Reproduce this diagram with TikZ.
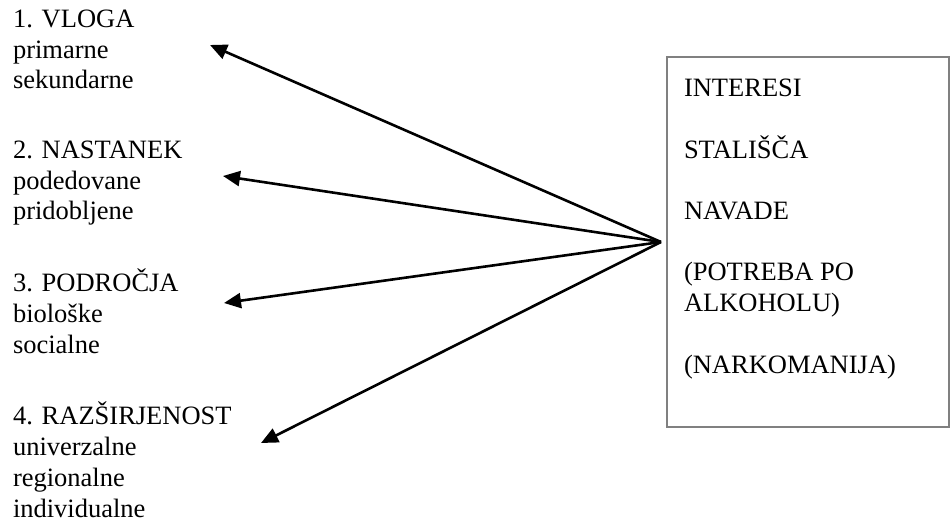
\documentclass[tikz,border=0pt]{standalone}
\usepackage{fontspec}
\setmainfont{Liberation Serif}
\usetikzlibrary{arrows.meta}
\begin{document}
\begin{tikzpicture}[x=1pt,y=-1pt,
  every node/.style={inner sep=0pt,outer sep=0pt},
  % multi-line labels are placed by the baseline of their last line
  label/.style={anchor=base west,align=left,
    font=\fontsize{26.5}{30.7}\selectfont},
  frame/.style={draw=black!50,line width=1.8pt,anchor=north west,
    minimum width=282pt,minimum height=370pt},
  link/.style={-{Triangle[length=17pt,width=15pt]},line width=2.6pt}]
\useasboundingbox (0,0) rectangle (952,526);

% left-hand classification groups
\node[label] (vloga) at (13,89) {1. VLOGA\\primarne\\sekundarne};
\node[label] (nastanek) at (13,220) {2. NASTANEK\\podedovane\\pridobljene};
\node[label] (podrocja) at (13,353) {3. PODROČJA\\biološke\\socialne};
\node[label] (razsirjenost) at (13,517) {4. RAZŠIRJENOST\\univerzalne\\regionalne\\individualne};

% right-hand box with examples
\node[frame] (box) at (667,57) {};
\node[label] (examples) at (684,373)
  {INTERESI\\[30.7pt]STALIŠČA\\[30.7pt]NAVADE\\[30.7pt](POTREBA PO\\ALKOHOLU)\\[30.7pt](NARKOMANIJA)};

% arrow hub and tips
\coordinate (hub) at ([xshift=-6pt]box.west);
\coordinate (t1) at (210,45);
\coordinate (t2) at (223,176);
\coordinate (t3) at (224,303);
\coordinate (t4) at (261,443);

\draw[link] (hub) -- (t1);
\draw[link] (hub) -- (t2);
\draw[link] (hub) -- (t3);
\draw[link] (hub) -- (t4);
\end{tikzpicture}
\end{document}
